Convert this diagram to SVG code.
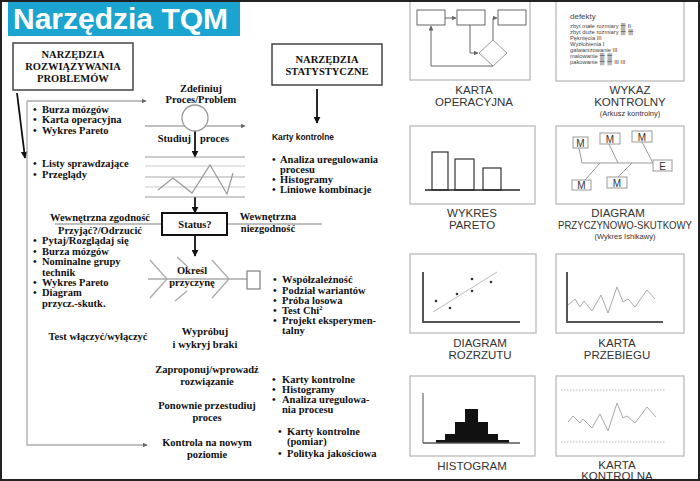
<svg xmlns="http://www.w3.org/2000/svg" width="700" height="481" viewBox="0 0 700 481">
<defs>
<marker id="ab" viewBox="0 0 10 10" refX="9" refY="5" markerWidth="7" markerHeight="7" markerUnits="userSpaceOnUse" orient="auto"><path d="M0,0 L10,5 L0,10 z" fill="#111"/></marker>
<marker id="ag" viewBox="0 0 10 10" refX="9" refY="5" markerWidth="5" markerHeight="5" markerUnits="userSpaceOnUse" orient="auto"><path d="M0,0 L10,5 L0,10 z" fill="#666"/></marker>
<style>
.s{font-family:"Liberation Serif","Times New Roman",serif;font-weight:bold;font-size:10.5px;fill:#111}
.c{text-anchor:middle}
.lab{font-family:"Liberation Sans",Arial,sans-serif;font-size:11.5px;fill:#333;text-anchor:middle}
.sm{font-family:"Liberation Sans",Arial,sans-serif;font-size:7.5px;fill:#333;text-anchor:middle}
.g{stroke:#aaa;stroke-width:1.3;fill:none}
.k{stroke:#111;stroke-width:1.8;fill:none}
.bx{stroke:#bbb;stroke-width:1.3;fill:#fff}
.tiny{font-family:"Liberation Sans","Noto Sans CJK SC",sans-serif;font-size:5.8px;fill:#444}
.ln{stroke:#666;stroke-width:1;fill:none}
.ax{stroke:#555;stroke-width:2;fill:none}
.mb{stroke:#999;stroke-width:1;fill:#fff}
.m{font-family:"Liberation Sans",Arial,sans-serif;font-size:10px;fill:#333;text-anchor:middle}
</style>
</defs>
<rect x="1" y="1" width="698" height="479" fill="#fff" stroke="#222" stroke-width="2"/>

<g id="title">
<rect x="8" y="2" width="232" height="34" fill="#1ba4cf"/>
<text x="13" y="29" font-family="Liberation Sans,Arial,sans-serif" font-weight="bold" font-size="30" fill="#fff">Narzędzia TQM</text>
</g>

<g id="connectors">
<line x1="17" y1="93" x2="25" y2="158" class="k" marker-end="url(#ab)"/>
<path d="M27,101 V445 H147" class="g" marker-end="url(#ag)"/>
<line x1="27" y1="101" x2="146" y2="101" class="g" marker-end="url(#ag)"/>
<line x1="145" y1="126" x2="245" y2="126" class="g" marker-end="url(#ag)"/>
<line x1="195" y1="131" x2="195" y2="157" class="k" marker-end="url(#ab)"/>
<line x1="195" y1="197" x2="195" y2="213" class="k" marker-end="url(#ab)"/>
<line x1="195" y1="235" x2="195" y2="256" class="k" marker-end="url(#ab)"/>
<line x1="317" y1="89" x2="317" y2="123" class="k" marker-end="url(#ab)"/>
<line x1="55" y1="224" x2="162" y2="224" class="g"/>
<line x1="227" y1="224" x2="322" y2="224" class="g"/>
<line x1="148" y1="279" x2="247" y2="279" class="g"/>
</g>

<g id="box-rozwiazywania">
<rect x="13" y="43" width="120" height="47" fill="#fff" stroke="#444" stroke-width="1.5"/>
<text class="s c" x="73" y="58">NARZĘDZIA</text>
<text class="s c" x="73" y="70">ROZWIĄZYWANIA</text>
<text class="s c" x="73" y="82">PROBLEMÓW</text>
</g>

<g id="box-statystyczne">
<rect x="272" y="44" width="110" height="41" fill="#fff" stroke="#444" stroke-width="1.5"/>
<text class="s c" x="327" y="63">NARZĘDZIA</text>
<text class="s c" x="327" y="75">STATYSTYCZNE</text>
</g>

<g id="list-1">
<text class="s" y="113"><tspan x="33">•</tspan><tspan x="42">Burza mózgów</tspan></text>
<text class="s" y="123"><tspan x="33">•</tspan><tspan x="42">Karta operacyjna</tspan></text>
<text class="s" y="134"><tspan x="33">•</tspan><tspan x="42">Wykres Pareto</tspan></text>
</g>

<g id="list-2">
<text class="s" y="167"><tspan x="33">•</tspan><tspan x="42">Listy sprawdzające</tspan></text>
<text class="s" y="178"><tspan x="33">•</tspan><tspan x="42">Przeglądy</tspan></text>
</g>

<g id="list-3">
<text class="s" y="244"><tspan x="33">•</tspan><tspan x="42">Pytaj/Rozglądaj się</tspan></text>
<text class="s" y="255"><tspan x="33">•</tspan><tspan x="42">Burza mózgów</tspan></text>
<text class="s" y="265"><tspan x="33">•</tspan><tspan x="42">Nominalne grupy</tspan></text>
<text class="s" x="42" y="276">technik</text>
<text class="s" y="286"><tspan x="33">•</tspan><tspan x="42">Wykres Pareto</tspan></text>
<text class="s" y="296"><tspan x="33">•</tspan><tspan x="42">Diagram</tspan></text>
<text class="s" x="42" y="307">przycz.-skutk.</text>
</g>

<g id="n-zdefiniuj">
<text class="s c" x="201" y="92">Zdefiniuj</text>
<text class="s c" x="201" y="103">Proces/Problem</text>
<circle cx="195" cy="118" r="13" fill="#fff" stroke="#999" stroke-width="1.3"/>
</g>

<g id="n-studiuj">
<text class="s" x="191" y="142" text-anchor="end">Studiuj</text>
<text class="s" x="200" y="142">proces</text>
</g>

<g id="n-chart">
<line x1="145" y1="157" x2="245" y2="157" stroke="#999" stroke-width="1.2"/>
<line x1="145" y1="166" x2="245" y2="166" stroke="#ccc" stroke-width="1.2"/>
<line x1="145" y1="177" x2="245" y2="177" stroke="#aaa" stroke-width="1.2"/>
<line x1="145" y1="187" x2="245" y2="187" stroke="#ccc" stroke-width="1.2"/>
<line x1="145" y1="197" x2="245" y2="197" stroke="#999" stroke-width="1.2"/>
<polyline points="158,190 173,178 192,193 210,165 227,194 233,173" fill="none" stroke="#999" stroke-width="1.2"/>
</g>

<g id="n-status">
<text class="s c" x="100" y="221">Wewnętrzna zgodność</text>
<text class="s c" x="100" y="234">Przyjąć?/Odrzucić</text>
<rect x="162" y="213" width="65" height="22" fill="#fff" stroke="#111" stroke-width="2"/>
<text class="s c" x="195" y="228">Status?</text>
<text class="s c" x="268" y="220">Wewnętrzna</text>
<text class="s c" x="268" y="232">niezgodność</text>
</g>

<g id="n-okresl">
<path d="M150,260 L167,279 L150,298" class="g"/>
<path d="M177,257 L188,267 M187,291 L175,301" class="g"/>
<path d="M212,260 L229,279 L212,298" class="g"/>
<text class="s c" x="192" y="274">Określ</text>
<text class="s c" x="192" y="286">przyczynę</text>
<rect x="247" y="271" width="13" height="18" fill="#fff" stroke="#888" stroke-width="1.3"/>
</g>

<g id="list-4">
<text class="s" y="283"><tspan x="273">•</tspan><tspan x="282">Współzależność</tspan></text>
<text class="s" y="294"><tspan x="273">•</tspan><tspan x="282">Podział wariantów</tspan></text>
<text class="s" y="304"><tspan x="273">•</tspan><tspan x="282">Próba losowa</tspan></text>
<text class="s" y="314"><tspan x="273">•</tspan><tspan x="282">Test Chi</tspan><tspan dy="-4" font-size="6.5">2</tspan></text>
<text class="s" y="324"><tspan x="273">•</tspan><tspan x="282">Projekt eksperymen-</tspan></text>
<text class="s" x="282" y="334">talny</text>
</g>

<g id="n-karty">
<text x="272" y="140" font-family="Liberation Sans,Arial,sans-serif" font-weight="bold" font-size="9.5" fill="#111" textLength="62" lengthAdjust="spacingAndGlyphs">Karty kontrolne</text>
<text class="s" y="163"><tspan x="272">•</tspan><tspan x="280">Analiza uregulowania</tspan></text>
<text class="s" x="280" y="173">procesu</text>
<text class="s" y="183"><tspan x="272">•</tspan><tspan x="280">Histogramy</tspan></text>
<text class="s" y="193"><tspan x="272">•</tspan><tspan x="280">Liniowe  kombinacje</tspan></text>
</g>

<g id="n-test">
<text class="s c" x="98" y="340">Test włączyć/wyłączyć</text>
</g>

<g id="n-wyprobuj">
<text class="s c" x="205" y="335">Wypróbuj</text>
<text class="s c" x="205" y="348">i wykryj braki</text>
</g>

<g id="n-zaproponuj">
<text class="s c" x="207" y="373">Zaproponuj/wprowadź</text>
<text class="s c" x="207" y="385">rozwiązanie</text>
</g>

<g id="list-5">
<text class="s" y="383"><tspan x="272">•</tspan><tspan x="282">Karty kontrolne</tspan></text>
<text class="s" y="393"><tspan x="272">•</tspan><tspan x="282">Histogramy</tspan></text>
<text class="s" y="403"><tspan x="272">•</tspan><tspan x="282">Analiza uregulowa-</tspan></text>
<text class="s" x="282" y="413">nia procesu</text>
</g>

<g id="n-ponownie">
<text class="s c" x="207" y="409">Ponownie przestudiuj</text>
<text class="s c" x="207" y="421">proces</text>
</g>

<g id="n-kontrola">
<text class="s c" x="207" y="446">Kontrola na nowym</text>
<text class="s c" x="207" y="458">poziomie</text>
</g>

<g id="list-6">
<text class="s" y="435"><tspan x="278">•</tspan><tspan x="287">Karty kontrolne</tspan></text>
<text class="s" x="287" y="445">(pomiar)</text>
<text class="s" y="457"><tspan x="278">•</tspan><tspan x="287">Polityka jakościowa</tspan></text>
</g>

<g id="p-karta-operacyjna">
<rect x="410" y="-5" width="120" height="85" class="bx"/>
<rect x="417" y="10" width="28" height="15" class="ln"/>
<rect x="457" y="10" width="28" height="15" class="ln"/>
<rect x="498" y="10" width="28" height="15" class="ln"/>
<line x1="445" y1="18" x2="456" y2="18" class="ln" marker-end="url(#ag)"/>
<path d="M493,40 V18 H497" class="ln" marker-end="url(#ag)"/>
<path d="M470,25 V53 H478" class="ln" marker-end="url(#ag)"/>
<path d="M493,40 L507,53 L493,66 L479,53 Z" stroke="#999" stroke-width="1" fill="none"/>
<path d="M493,66 H431 V26" class="ln" marker-end="url(#ag)"/>
<text class="lab" x="474" y="94">KARTA</text>
<text class="lab" x="474" y="105.5">OPERACYJNA</text>
</g>

<g id="p-wykaz">
<rect x="556" y="-5" width="128" height="86" class="bx"/>
<text x="570" y="19" font-family="Liberation Sans,Arial,sans-serif" font-size="8" fill="#444">defekty</text>
<text class="tiny" x="570" y="27.5">zbyt małe rozmiary 卌 II</text>
<text class="tiny" x="570" y="33.5">zbyt duże rozmiary 卌 卌</text>
<text class="tiny" x="570" y="39.5">Pęknięcia III</text>
<text class="tiny" x="570" y="45.5">Wyżłobienia I</text>
<text class="tiny" x="570" y="51.5">galwanizowanie III</text>
<text class="tiny" x="570" y="57.5">malowanie 卌 卌</text>
<text class="tiny" x="570" y="63.5">pakowanie 卌 卌 III III</text>
<text class="lab" x="630" y="94">WYKAZ</text>
<text class="lab" x="630" y="105.5">KONTROLNY</text>
<text class="sm" x="630" y="116">(Arkusz kontrolny)</text>
</g>

<g id="p-pareto">
<rect x="410" y="126" width="125" height="78" class="bx"/>
<rect x="432" y="152" width="16" height="38" fill="#fff" stroke="#333" stroke-width="1.2"/>
<rect x="455" y="159" width="19" height="31" fill="#fff" stroke="#333" stroke-width="1.2"/>
<rect x="483" y="168" width="18" height="22" fill="#fff" stroke="#333" stroke-width="1.2"/>
<line x1="425" y1="190" x2="520" y2="190" stroke="#222" stroke-width="1.5"/>
<text class="lab" x="472" y="217">WYKRES</text>
<text class="lab" x="472" y="228.5">PARETO</text>
</g>

<g id="p-ishikawa">
<rect x="556" y="126" width="128" height="78" class="bx"/>
<path d="M582,163 H653 M579,148 L582,163 M609,144 L618,163 M642,142 L653,163 M585,180 L600,163 M618,177 L632,163" stroke="#999" stroke-width="1" fill="none"/>
<rect x="573" y="137" width="15" height="11" class="mb"/><text class="m" x="580.5" y="146.5">M</text>
<rect x="600" y="133" width="20" height="11" class="mb"/><text class="m" x="610" y="142.5">M</text>
<rect x="632" y="131" width="20" height="11" class="mb"/><text class="m" x="642" y="140.5">M</text>
<rect x="653" y="160" width="19" height="11" class="mb"/><text class="m" x="662.5" y="169.5">E</text>
<rect x="572" y="180" width="19" height="10" class="mb"/><text class="m" x="581.5" y="189">M</text>
<rect x="607" y="177" width="20" height="11" class="mb"/><text class="m" x="617" y="186.5">M</text>
<text class="lab" x="618" y="217">DIAGRAM</text>
<text class="lab" x="625" y="228.5" textLength="134" lengthAdjust="spacingAndGlyphs">PRZYCZYNOWO-SKUTKOWY</text>
<text class="sm" x="625" y="238.5">(Wykres Ishikawy)</text>
</g>

<g id="p-rozrzutu">
<rect x="410" y="254" width="126" height="79" class="bx"/>
<path d="M423,272 V322 H520" class="ax"/>
<line x1="433" y1="312" x2="497" y2="272" stroke="#bbb" stroke-width="1"/>
<g fill="#333"><circle cx="436" cy="301" r="1.3"/><circle cx="450" cy="308" r="1.3"/><circle cx="457" cy="294" r="1.3"/><circle cx="472" cy="279" r="1.3"/><circle cx="472" cy="291" r="1.3"/><circle cx="491" cy="282" r="1.3"/></g>
<text class="lab" x="480" y="347">DIAGRAM</text>
<text class="lab" x="480" y="358.5">ROZRZUTU</text>
</g>

<g id="p-przebiegu">
<rect x="556" y="254" width="128" height="79" class="bx"/>
<path d="M567,272 V322 H663" class="ax"/>
<polyline points="568,305 575,299 580,307 584,301 592,311 601,295 608,313 617,287 623,302 628,299 635,307 647,290 655,299" fill="none" stroke="#aaa" stroke-width="1"/>
<text class="lab" x="617" y="347">KARTA</text>
<text class="lab" x="617" y="358.5">PRZEBIEGU</text>
</g>

<g id="p-histogram">
<rect x="410" y="376" width="125" height="80" class="bx"/>
<line x1="423" y1="393" x2="423" y2="443" stroke="#888" stroke-width="1.5"/>
<path d="M436,443 V440 H445 V434 H455 V422 H465 V409 H478 V422 H488 V434 H498 V440 H509 V443 Z" fill="#111"/>
<line x1="423" y1="443" x2="520" y2="443" stroke="#555" stroke-width="1.5"/>
<text class="lab" x="472" y="470">HISTOGRAM</text>
</g>

<g id="p-kontrolna">
<rect x="556" y="376" width="128" height="80" class="bx"/>
<line x1="561" y1="390" x2="665" y2="390" stroke="#bbb" stroke-width="1" stroke-dasharray="1.5,1.5"/>
<line x1="561" y1="442" x2="665" y2="442" stroke="#bbb" stroke-width="1" stroke-dasharray="1.5,1.5"/>
<polyline points="568,422 573,416 580,423 583,419 592,428 600,414 608,431 617,403 623,418 627,416 635,423 647,407 656,417" fill="none" stroke="#aaa" stroke-width="1"/>
<text class="lab" x="617" y="469">KARTA</text>
<text class="lab" x="617" y="480">KONTROLNA</text>
</g>
<rect x="1" y="1" width="698" height="479" fill="none" stroke="#222" stroke-width="2"/>
</svg>
